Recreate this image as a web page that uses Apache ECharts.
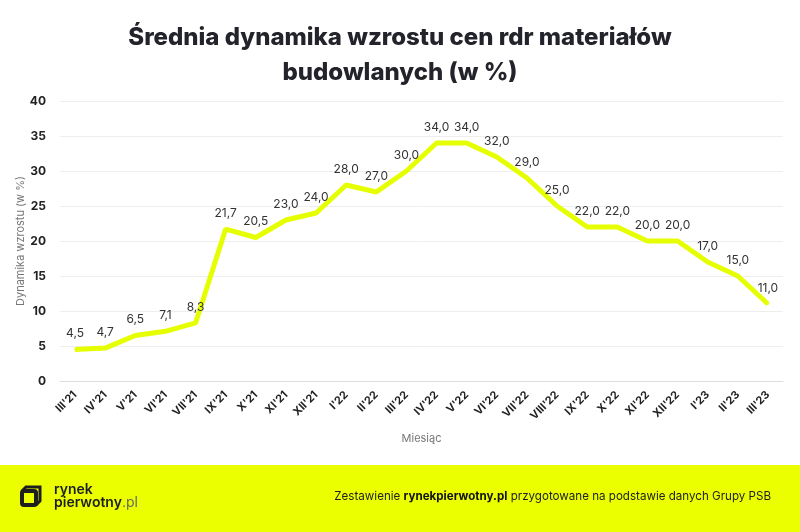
<!DOCTYPE html>
<html><head><meta charset="utf-8">
<script src="https://cdn.jsdelivr.net/npm/echarts@6/dist/echarts.min.js"></script>
<style>html,body{margin:0;padding:0;background:#fff}#c{width:800px;height:532px}</style>
</head><body><div id="c"></div>
<script>
const categories = ["III'21","IV'21","V'21","VI'21","VII'21","IX'21","X'21","XI'21","XII'21","I'22","II'22","III'22","IV'22","V'22","VI'22","VII'22","VIII'22","IX'22","X'22","XI'22","XII'22","I'23","II'23","III'23"];
const values = [4.5,4.7,6.5,7.1,8.3,21.7,20.5,23.0,24.0,28.0,27.0,30.0,34.0,34.0,32.0,29.0,25.0,22.0,22.0,20.0,20.0,17.0,15.0,11.0];
const yTicks = [0,5,10,15,20,25,30,35,40];

const chart = echarts.init(document.getElementById('c'));
const F = "Inter, 'Noto Sans', sans-serif";
chart.setOption({
  backgroundColor: '#fff',
  animation: false,
  title: {
    text: 'Średnia dynamika wzrostu cen rdr materiałów\nbudowlanych (w %)',
    left: 'center', top: 15,
    textStyle: {fontFamily: F, fontSize: 24, fontWeight: 800, color: '#23232b', lineHeight: 35}
  },
  grid: {left: 60, right: 17, top: 101, bottom: 151},
  xAxis: {
    type: 'category', data: categories, boundaryGap: true,
    name: 'Miesiąc', nameLocation: 'middle', nameGap: 52,
    nameTextStyle: {fontFamily: F, fontSize: 11, color: '#777'},
    axisLine: {show: true, lineStyle: {color: '#ddd', width: 1}},
    axisTick: {show: false},
    axisLabel: {rotate: 45, interval: 0, fontFamily: F, fontSize: 11, fontWeight: 'bold', color: '#222', margin: 12}
  },
  yAxis: {
    type: 'value', min: 0, max: 40, interval: 5,
    name: 'Dynamika wzrostu (w %)', nameLocation: 'middle', nameGap: 34, nameMoveOverlap: false,
    nameTextStyle: {fontFamily: F, fontSize: 11, color: '#777'},
    axisLine: {show: false}, axisTick: {show: false},
    splitLine: {lineStyle: {color: '#eee', width: 1}},
    axisLabel: {fontFamily: F, fontSize: 12, fontWeight: 'bold', color: '#222', margin: 14,
      formatter: v => yTicks.includes(v) ? String(v) : ''}
  },
  series: [{
    type: 'line', data: values, symbol: 'circle', symbolSize: 2, showSymbol: true,
    itemStyle: {color: '#e6ff00'},
    lineStyle: {color: '#e6ff00', width: 5},
    label: {show: true, position: 'top', distance: 9, fontFamily: F, fontSize: 12, color: '#333',
      formatter: p => Number(p.value).toFixed(1).replace('.', ',')}
  }],
  graphic: [
    {type: 'rect', left: 0, top: 465, shape: {width: 800, height: 67}, style: {fill: '#ebff00'}, silent: true},
    {type: 'rect', shape: {x: 22, y: 491, width: 14, height: 14, r: 2}, style: {stroke: '#1e1e1e', lineWidth: 4, fill: 'none'}},
    {type: 'polyline', shape: {points: [[22,491],[26,487],[40,487],[40,501],[36,505]]}, style: {stroke: '#1e1e1e', lineWidth: 3, fill: 'none'}},
    {type: 'text', left: 54, top: 483, style: {text: 'rynek', font: '600 14px ' + F, fill: '#1e1e1e'}},
    {type: 'text', left: 54, top: 496, style: {rich: {a: {font: '600 14px ' + F, fill: '#1e1e1e'}, b: {font: '400 14px ' + F, fill: '#666'}}, text: '{a|pierwotny}{b|.pl}'}},
    {type: 'text', right: 29, top: 491, style: {
      text: '{n|Zestawienie }{b|rynekpierwotny.pl}{n| przygotowane na podstawie danych Grupy PSB}',
      rich: {n: {font: '400 11.6px ' + F, fill: '#222'}, b: {font: 'bold 11.6px ' + F, fill: '#111'}}}}
  ]
});
</script></body></html>
